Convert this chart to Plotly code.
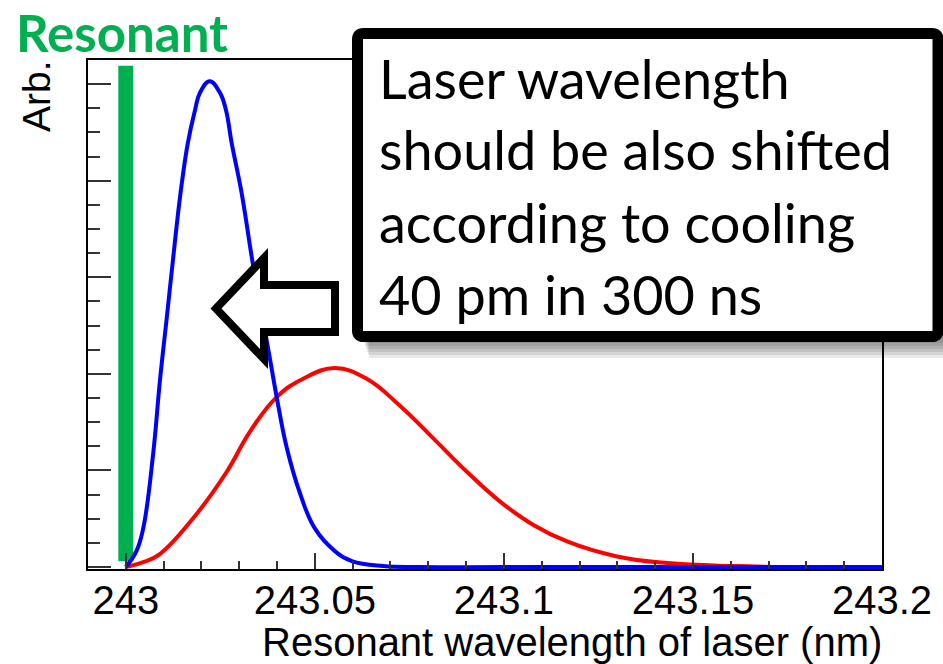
import plotly.graph_objects as go

# ---------------- data ----------------
blue_x = [243.0, 243.0028, 243.0046, 243.0072, 243.0090, 243.0108, 243.0125, 243.0145,
          243.0164, 243.0183, 243.0196, 243.0222, 243.0249, 243.0265, 243.0280, 243.0306,
          243.0336, 243.0360, 243.0381, 243.0400, 243.0426, 243.0461, 243.0500, 243.0553,
          243.0598, 243.0680, 243.0776, 243.10, 243.15, 243.2]
blue_y = [0.0, 0.165, 0.40, 1.16, 1.92, 2.57, 3.19, 3.88,
          4.39, 4.73, 4.91, 5.03, 4.91, 4.73, 4.39, 3.88,
          3.14, 2.62, 2.16, 1.74, 1.23, 0.76, 0.40, 0.165,
          0.062, 0.010, 0.0, 0.0, 0.0, 0.0]

red_x = [243.0, 243.0046, 243.0090, 243.0178, 243.0267, 243.0328, 243.0399, 243.0469,
         243.0553, 243.0637, 243.0725, 243.0814, 243.0902, 243.0990, 243.1078, 243.1167,
         243.1299, 243.1432, 243.1608, 243.178, 243.2]
red_y = [0.0, 0.05, 0.135, 0.505, 0.987, 1.40, 1.76, 1.95,
         2.06, 1.95, 1.67, 1.33, 0.987, 0.678, 0.436, 0.265,
         0.110, 0.041, 0.010, 0.0, 0.0]

resonant_x = 243.0
resonant_y = [0.06, 5.19]

x_tick_vals = [243.0, 243.05, 243.1, 243.15, 243.2]
x_tick_text = ["243", "243.05", "243.1", "243.15", "243.2"]

title_text = "Resonant wavelength of laser (nm)"
y_title = "Arb."
corner_label = "Resonant"
box_lines = ["Laser wavelength", "should be also shifted",
             "according to cooling", "40 pm in 300 ns"]

# ---------------- layout geometry ----------------
W, H = 943, 664
L, R, T, B = 88, 61, 60, 95
PW, PH = W - L - R, H - T - B


def px(x):
    return (x - L) / PW


def py(y):
    return (H - B - y) / PH


fig = go.Figure()

fig.add_trace(go.Scatter(x=[resonant_x, resonant_x], y=resonant_y, mode="lines",
                         line=dict(color="#00B050", width=15), hoverinfo="skip",
                         showlegend=False))
fig.add_trace(go.Scatter(x=red_x, y=red_y, mode="lines",
                         line=dict(color="#FF0000", width=4, shape="spline", smoothing=1.2),
                         showlegend=False))
fig.add_trace(go.Scatter(x=blue_x, y=blue_y, mode="lines",
                         line=dict(color="#0000FF", width=4, shape="spline", smoothing=1.2),
                         showlegend=False))

shapes = []
# arrow (outlined, white fill)
arrow = [(216, 308.5), (264, 258), (264, 285), (335, 285), (335, 332), (264, 332), (264, 359)]
path = "M " + " L ".join(f"{px(a)},{py(b)}" for a, b in arrow) + " Z"
shapes.append(dict(type="path", xref="paper", yref="paper", path=path,
                   line=dict(color="black", width=8), fillcolor="white", layer="above"))

# shadow under the text box
for k in range(6):
    shapes.append(dict(type="rect", xref="paper", yref="paper",
                       x0=px(364 + k), x1=px(945), y0=py(40), y1=py(343 + 3 * k),
                       line=dict(width=0), fillcolor="rgba(0,0,0,0.085)", layer="above"))

# text box with slightly rounded corners
x0b, x1b, y0b, y1b, r = 357.5, 938, 33.5, 336.5, 6
bp = (f"M {px(x0b + r)},{py(y0b)} L {px(x1b - r)},{py(y0b)} "
      f"Q {px(x1b)},{py(y0b)} {px(x1b)},{py(y0b + r)} "
      f"L {px(x1b)},{py(y1b - r)} Q {px(x1b)},{py(y1b)} {px(x1b - r)},{py(y1b)} "
      f"L {px(x0b + r)},{py(y1b)} Q {px(x0b)},{py(y1b)} {px(x0b)},{py(y1b - r)} "
      f"L {px(x0b)},{py(y0b + r)} Q {px(x0b)},{py(y0b)} {px(x0b + r)},{py(y0b)} Z")
shapes.append(dict(type="path", xref="paper", yref="paper", path=bp,
                   line=dict(color="black", width=11), fillcolor="white", layer="above"))

annotations = []
box_font = dict(family="Lato", size=54, color="black")
for i, line in enumerate(box_lines):
    annotations.append(dict(text=line, xref="paper", yref="paper", x=px(377),
                            y=py(78 + 72 * i), xanchor="left", yanchor="middle",
                            showarrow=False, font=box_font))

annotations.append(dict(text=f"<b>{corner_label}</b>", xref="paper", yref="paper",
                        x=px(14), y=py(32.5), xanchor="left", yanchor="middle",
                        showarrow=False,
                        font=dict(family="Lato", size=51, color="#00B050")))
annotations.append(dict(text=y_title, xref="paper", yref="paper", x=px(36), y=py(96),
                        xanchor="center", yanchor="middle", textangle=-90,
                        showarrow=False,
                        font=dict(family="Liberation Sans", size=39, color="black")))
annotations.append(dict(text=title_text, xref="paper", yref="paper", x=px(884), y=py(641.5),
                        xanchor="right", yanchor="middle", showarrow=False,
                        font=dict(family="Liberation Sans", size=40, color="black")))

fig.update_layout(
    width=W, height=H, autosize=False,
    margin=dict(l=L, r=R, t=T, b=B, pad=0),
    paper_bgcolor="white", plot_bgcolor="white",
    shapes=shapes, annotations=annotations,
    xaxis=dict(range=[242.99, 243.2], tickmode="array", tickvals=x_tick_vals,
               ticktext=x_tick_text, ticks="inside", ticklen=16, tickwidth=1.5,
               tickcolor="#333", showgrid=False, zeroline=False, ticklabelstandoff=-5,
               showline=True, linecolor="black", linewidth=1.5, mirror=True,
               tickfont=dict(family="Liberation Sans", size=40, color="black"),
               minor=dict(dtick=0.01, ticks="inside", ticklen=8, tickwidth=1.5,
                          tickcolor="#333", showgrid=False)),
    yaxis=dict(range=[-0.02, 5.25], dtick=1, tick0=0, ticks="inside", ticklen=23,
               tickwidth=1.5, tickcolor="#333", showticklabels=False,
               showgrid=False, zeroline=False,
               showline=True, linecolor="black", linewidth=1.5, mirror=True,
               minor=dict(dtick=0.25, ticks="inside", ticklen=12, tickwidth=1.5,
                          tickcolor="#333", showgrid=False)),
)

fig.write_html("out.html")
